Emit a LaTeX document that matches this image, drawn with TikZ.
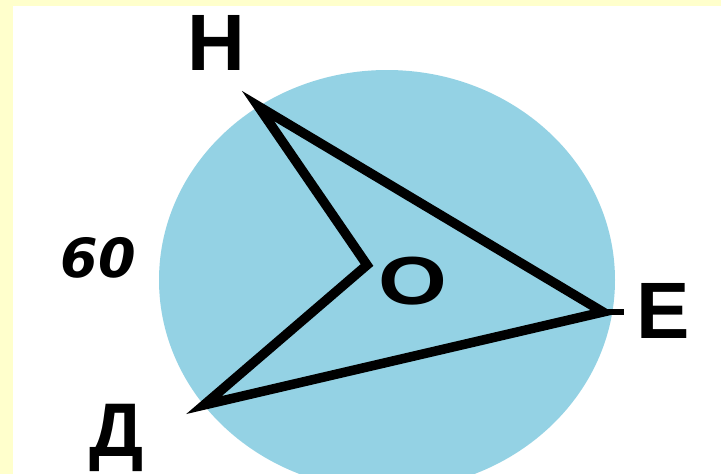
\documentclass[tikz,border=0pt]{standalone}
\usepackage{fontspec}
\setmainfont{Liberation Sans}
\newfontfamily\numfont{DejaVu Sans}
\usetikzlibrary{positioning}
\definecolor{paleyellow}{RGB}{255,255,204}
\definecolor{discblue}{RGB}{148,210,228}

\begin{document}
\begin{tikzpicture}[x=1pt, y=-1pt, line join=miter,
  vertex/.style={font={\fontsize{80}{80}\selectfont\bfseries}, inner sep=0pt, anchor=base},
  side/.style={line width=9.5pt}]
  \useasboundingbox (0,0) rectangle (721,474);
  \fill[paleyellow] (0,0) rectangle (721,474);
  \fill[white] (13,6) rectangle (721,474);
  \fill[discblue] (387,280) ellipse [x radius=228, y radius=210];
  % vertices of the figure
  \coordinate (H) at (258,106);
  \coordinate (O) at (367,265);
  \coordinate (D) at (204,405);
  \coordinate (E) at (603,312);
  \coordinate (Etick) at (624,312);
  \draw[side] (H) -- (O) -- (D) -- (E) -- cycle;
  \draw[line width=6pt] (E) -- (Etick);
  % labels
  \node[vertex] (labH) at (216,70) {H};
  \node[vertex] (labE) at (663,338) {E};
  \node[vertex, font={\fontsize{76}{76}\selectfont\bfseries}] (labD) at (117,456) {Д};
  \node[font={\fontsize{68}{68}\selectfont\bfseries}, inner sep=0pt, xscale=1.3, transform shape] (labO) at (413,281) {O};
  \node[font={\numfont\fontsize{54}{54}\selectfont\bfseries\itshape}, inner sep=0pt, anchor=base] (lab60) at (98,277) {60};
\end{tikzpicture}
\end{document}
